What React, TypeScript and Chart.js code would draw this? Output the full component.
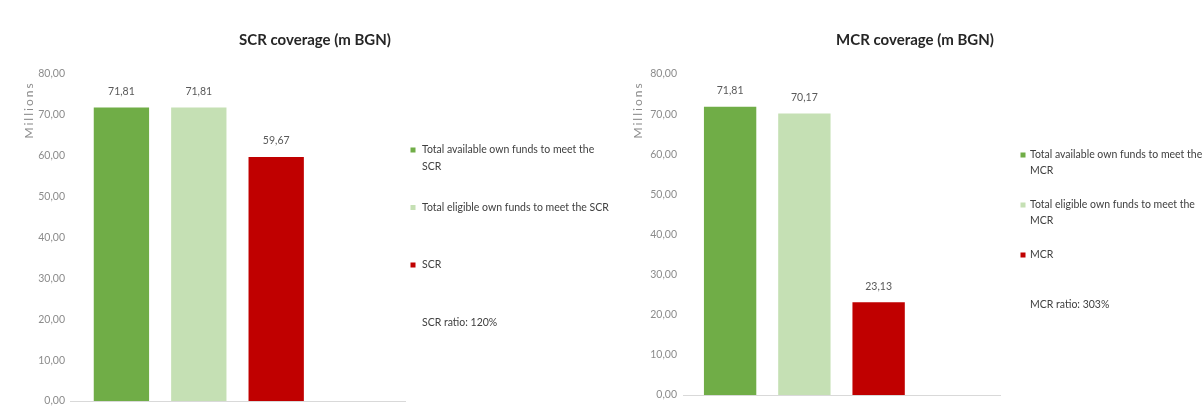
import React, { useEffect, useRef } from "react";
import { Chart, registerables } from "chart.js";

Chart.register(...registerables);

// ---------- data ----------
const SCR_TITLE = "SCR coverage (m BGN)";
const SCR_LEGEND_LINES = [
  ["Total available own funds to meet the", "SCR"],
  ["Total eligible own funds to meet the SCR"],
  ["SCR"],
  ["SCR ratio: 120%"],
];
const SCR_VALUES = [71.81, 71.81, 59.67];

const MCR_TITLE = "MCR coverage (m BGN)";
const MCR_LEGEND_LINES = [
  ["Total available own funds to meet the", "MCR"],
  ["Total eligible own funds to meet the", "MCR"],
  ["MCR"],
  ["MCR ratio: 303%"],
];
const MCR_VALUES = [71.81, 70.17, 23.13];

const BAR_COLORS = ["#70AD47", "#C5E0B4", "#C00000"];
const AXIS_TITLE = "Millions";
const Y_MIN = 0;
const Y_MAX = 80;
const Y_STEP = 10;

// ---------- helpers ----------
const FONT = "Lato, 'DejaVu Sans', sans-serif";
const fmt = (v: number) => Number(v).toFixed(2).replace(".", ",");

const overlayPlugin = {
  id: "overlay",
  afterDatasetsDraw(chart: any, _args: any, o: any) {
    const ctx = chart.ctx;
    ctx.save();
    // value labels
    ctx.font = `${o.valueFontSize}px ${FONT}`;
    ctx.fillStyle = o.valueColor;
    ctx.textAlign = "center";
    ctx.textBaseline = "middle";
    chart.data.datasets.forEach((ds: any, i: number) => {
      const meta = chart.getDatasetMeta(i);
      meta.data.forEach((el: any, j: number) => {
        const v = ds.data[j];
        if (v == null) return;
        ctx.fillText(fmt(v), el.x, el.y - o.valueOffset);
      });
    });
    // axis title
    ctx.save();
    ctx.font = `${o.axisTitleSize}px ${FONT}`;
    ctx.fillStyle = o.axisTitleColor;
    try {
      (ctx as any).letterSpacing = "2px";
    } catch (e) {}
    ctx.translate(o.axisTitleX, chart.chartArea.top + o.axisTitleDy);
    ctx.rotate(-Math.PI / 2);
    ctx.textAlign = "center";
    ctx.textBaseline = "middle";
    ctx.fillText(AXIS_TITLE, 0, 0);
    ctx.restore();
    // legend
    const lg = o.legend;
    ctx.font = `${lg.fontSize}px ${FONT}`;
    ctx.fillStyle = lg.color;
    ctx.textAlign = "left";
    ctx.textBaseline = "middle";
    chart.data.datasets.forEach((ds: any, i: number) => {
      const y0 = lg.y + i * lg.step;
      if (ds.backgroundColor && ds.backgroundColor !== "transparent") {
        ctx.fillStyle = ds.backgroundColor;
        ctx.fillRect(lg.boxX - lg.box / 2, y0 - lg.box / 2, lg.box, lg.box);
      }
      ctx.fillStyle = lg.color;
      (ds.legendLines || [ds.label]).forEach((line: string, k: number) => {
        ctx.fillText(line, lg.textX, y0 + k * lg.lineHeight);
      });
    });
    ctx.restore();
  },
};

function makeConfig(p: any) {
  const datasets: any[] = p.values.map((v: number, i: number) => ({
    label: p.lines[i].join(" "),
    legendLines: p.lines[i],
    data: [v],
    backgroundColor: BAR_COLORS[i],
    yAxisID: "y",
  }));
  datasets.push({
    label: p.lines[3].join(" "),
    legendLines: p.lines[3],
    data: [null],
    backgroundColor: "transparent",
    yAxisID: "y",
  });
  return {
    type: "bar",
    data: { labels: [""], datasets },
    plugins: [overlayPlugin],
    options: {
      responsive: false,
      animation: false,
      layout: { padding: { left: 0, right: 0, top: 0, bottom: p.bottomPad } },
      datasets: { bar: { categoryPercentage: p.catPct, barPercentage: p.barPct } },
      plugins: {
        legend: { display: false },
        tooltip: { enabled: false },
        title: {
          display: true,
          text: p.title,
          color: "#262626",
          font: { family: FONT, size: 15, weight: "bold" },
          padding: { top: 31, bottom: 25 },
        },
        overlay: {
          valueFontSize: 10.5,
          valueColor: "#595959",
          valueOffset: 16,
          axisTitleSize: 12,
          axisTitleColor: "#8C8C8C",
          axisTitleX: p.axisTitleX,
          axisTitleDy: 36,
          legend: p.legend,
        },
      },
      scales: {
        x: {
          display: true,
          grid: { display: false, drawTicks: false },
          ticks: { display: false },
          border: { display: true, color: "#D9D9D9", width: 1 },
          afterFit: (s: any) => {
            s.height = 0;
          },
        },
        y: {
          position: "left",
          min: Y_MIN,
          max: Y_MAX,
          ticks: {
            stepSize: Y_STEP,
            callback: (v: any) => fmt(v),
            color: "#8C8C8C",
            font: { family: FONT, size: 10.5 },
            padding: p.tickPad,
          },
          grid: { display: false, drawTicks: false },
          border: { display: false },
          afterFit: (s: any) => {
            s.width = p.axisWidth;
          },
        },
        legendSpace: {
          type: "linear",
          position: "right",
          display: true,
          grid: { display: false, drawTicks: false },
          ticks: { display: false },
          border: { display: false },
          afterFit: (s: any) => {
            s.width = p.legendWidth;
          },
        },
      },
    },
  };
}

function ChartCanvas({ config, left, width }: any) {
  const ref = useRef<HTMLCanvasElement>(null);
  useEffect(() => {
    const chart = new Chart(ref.current as HTMLCanvasElement, config);
    return () => chart.destroy();
  }, []);
  return (
    <canvas
      ref={ref}
      width={width}
      height={414}
      style={{ position: "absolute", left, top: 0, width, height: 414 }}
    />
  );
}

const scrConfig = makeConfig({
  title: SCR_TITLE,
  values: SCR_VALUES,
  lines: SCR_LEGEND_LINES,
  bottomPad: 13,
  catPct: 0.924,
  barPct: 0.715,
  axisWidth: 70,
  tickPad: 5,
  legendWidth: 225,
  axisTitleX: 29,
  legend: { boxX: 413, textX: 422, y: 150, step: 57.5, lineHeight: 17, box: 5, fontSize: 10.5, color: "#404040" },
});

const mcrConfig = makeConfig({
  title: MCR_TITLE,
  values: MCR_VALUES,
  lines: MCR_LEGEND_LINES,
  bottomPad: 19,
  catPct: 0.937,
  barPct: 0.705,
  axisWidth: 56,
  tickPad: 6,
  legendWidth: 203,
  axisTitleX: 11,
  legend: { boxX: 396, textX: 403, y: 155, step: 50, lineHeight: 16, box: 5, fontSize: 10.5, color: "#404040" },
});

export default function App() {
  return (
    <div style={{ position: "absolute", left: 0, top: 0, width: 1203, height: 414, background: "#fff", overflow: "hidden" }}>
      <ChartCanvas config={scrConfig} left={0} width={630} />
      <ChartCanvas config={mcrConfig} left={627} width={576} />
    </div>
  );
}
